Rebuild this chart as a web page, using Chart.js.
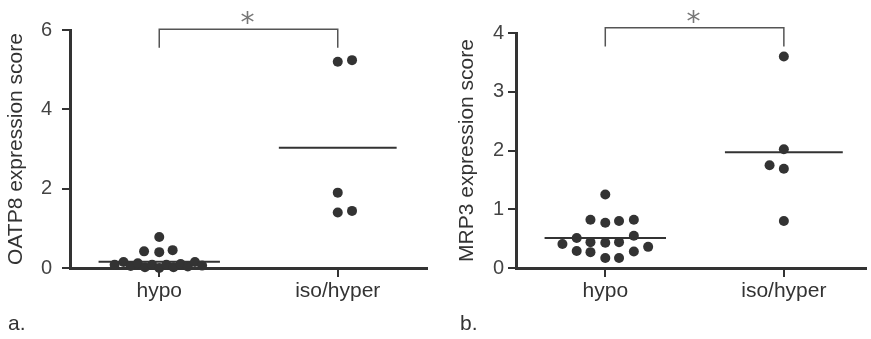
<!DOCTYPE html>
<html lang="en">
<head>
<meta charset="UTF-8">
<title>OATP8 / MRP3 expression score</title>
<script src="https://cdn.jsdelivr.net/npm/chart.js"></script>
<style>
  body { margin: 0; background: #fff; width: 871px; height: 339px; position: relative; overflow: hidden;
         font-family: "Liberation Sans", Arial, sans-serif; }
  .panel { position: absolute; top: 0; height: 339px; }
  .tag { position: absolute; top: 311px; font-size: 21px; color: #333; }
</style>
</head>
<body>
<div class="panel" style="left:0;width:435px"><canvas id="chartA"></canvas></div>
<div class="panel" style="left:435px;width:436px"><canvas id="chartB"></canvas></div>
<div class="tag" style="left:8px">a.</div>
<div class="tag" style="left:460px">b.</div>

<script>
const groups = ['hypo', 'iso/hyper'];

// a. OATP8 expression score
const oatpHypo       = [0.78, 0.42, 0.40, 0.45, 0.08, 0.15, 0.05, 0.12, 0.02, 0.08, 0.00, 0.08, 0.02, 0.10, 0.04, 0.15, 0.06];
const oatpHypoJitter = [0, -0.085, 0, 0.075, -0.25, -0.2, -0.16, -0.12, -0.08, -0.04, 0, 0.04, 0.08, 0.12, 0.16, 0.2, 0.24];
const oatpIso        = [5.20, 5.24, 1.90, 1.40, 1.44];
const oatpIsoJitter  = [0, 0.08, 0, 0, 0.08];
const oatpMeans      = [0.16, 3.03];
const oatpTicks      = [0, 2, 4, 6];

// b. MRP3 expression score
const mrpHypo        = [1.25, 0.82, 0.77, 0.80, 0.82, 0.51, 0.55, 0.41, 0.44, 0.43, 0.44, 0.36, 0.29, 0.27, 0.28, 0.17, 0.17];
const mrpHypoJitter  = [0, -0.083, 0, 0.077, 0.16, -0.16, 0.16, -0.24, -0.083, 0, 0.077, 0.24, -0.16, -0.083, 0.16, 0, 0.077];
const mrpIso         = [3.60, 2.02, 1.75, 1.69, 0.80];
const mrpIsoJitter   = [0, 0, -0.08, 0, 0];
const mrpMeans       = [0.51, 1.97];
const mrpTicks       = [0, 1, 2, 3, 4];

const ink = '#333';

const bracketPlugin = {
  id: 'bracket',
  afterDraw(chart, args, opts) {
    const { ctx, scales: { x, y } } = chart;
    const x1 = x.getPixelForValue(1), x2 = x.getPixelForValue(2);
    const yt = y.getPixelForValue(opts.top), yb = y.getPixelForValue(opts.bottom);
    ctx.save();
    ctx.strokeStyle = '#555';
    ctx.lineWidth = 1.5;
    ctx.beginPath();
    ctx.moveTo(x1, yb); ctx.lineTo(x1, yt); ctx.lineTo(x2, yt); ctx.lineTo(x2, yb);
    ctx.stroke();
    ctx.fillStyle = '#777';
    ctx.font = '28px "DejaVu Sans"';
    ctx.textAlign = 'center';
    ctx.textBaseline = 'alphabetic';
    ctx.fillText('*', (x1 + x2) / 2 - 1, yt + 3);
    ctx.restore();
  }
};

function points(values, jitter, group) {
  return values.map((v, i) => ({ x: group + jitter[i], y: v }));
}

function meanLine(mean, group, half) {
  return {
    type: 'line',
    data: [{ x: group - half, y: mean }, { x: group + half, y: mean }],
    borderColor: ink, borderWidth: 2, pointRadius: 0, clip: false
  };
}

function makeChart(id, o) {
  new Chart(document.getElementById(id), {
    type: 'scatter',
    data: {
      datasets: [
        { data: points(o.hypo, o.hypoJitter, 1), backgroundColor: ink, borderWidth: 0, pointRadius: 5, clip: false },
        { data: points(o.iso, o.isoJitter, 2), backgroundColor: ink, borderWidth: 0, pointRadius: 5, clip: false },
        meanLine(o.means[0], 1, 0.34),
        meanLine(o.means[1], 2, 0.33)
      ]
    },
    options: {
      responsive: true,
      maintainAspectRatio: false,
      animation: false,
      layout: { padding: o.padding },
      plugins: { legend: { display: false }, tooltip: { enabled: false }, bracket: o.bracket },
      scales: {
        x: {
          type: 'linear', min: 0.5, max: o.xMax,
          afterBuildTicks: s => { s.ticks = groups.map((g, i) => ({ value: i + 1 })); },
          afterFit: s => { s.height = 71; },
          ticks: { callback: v => groups[v - 1], color: ink, padding: 2, font: { size: 21, family: '"Liberation Sans", Arial' } },
          grid: { display: true, drawOnChartArea: false, drawTicks: true, tickLength: 9, lineWidth: 2, color: ink },
          border: { display: true, width: 3, color: ink }
        },
        y: {
          min: 0, max: o.yMax,
          afterBuildTicks: s => { s.ticks = o.ticks.map(v => ({ value: v })); },
          afterFit: s => { s.width = o.yWidth; },
          ticks: { color: '#444', padding: o.tickPad, font: { size: 20, family: '"Liberation Sans", Arial' } },
          grid: { display: true, drawOnChartArea: false, drawTicks: true, tickLength: 8, lineWidth: 2, color: ink },
          border: { display: true, width: 3, color: ink },
          title: { display: true, text: o.title, color: ink, padding: { top: o.titlePad, bottom: 0 },
                   font: { size: 21, family: '"Liberation Sans", Arial' } }
        }
      }
    },
    plugins: [bracketPlugin]
  });
}

makeChart('chartA', {
  hypo: oatpHypo, hypoJitter: oatpHypoJitter, iso: oatpIso, isoJitter: oatpIsoJitter,
  means: oatpMeans, ticks: oatpTicks, yMax: 6, xMax: 2.5,
  title: 'OATP8 expression score', yWidth: 70, tickPad: 10, titlePad: 4,
  padding: { top: 30, right: 8, bottom: 0, left: 0 },
  bracket: { top: 6.02, bottom: 5.55 }
});

makeChart('chartB', {
  hypo: mrpHypo, hypoJitter: mrpHypoJitter, iso: mrpIso, isoJitter: mrpIsoJitter,
  means: mrpMeans, ticks: mrpTicks, yMax: 4, xMax: 2.46,
  title: 'MRP3 expression score', yWidth: 81, tickPad: 4, titlePad: 20,
  padding: { top: 33, right: 0, bottom: 0, left: 0 },
  bracket: { top: 4.09, bottom: 3.77 }
});
</script>
</body>
</html>
